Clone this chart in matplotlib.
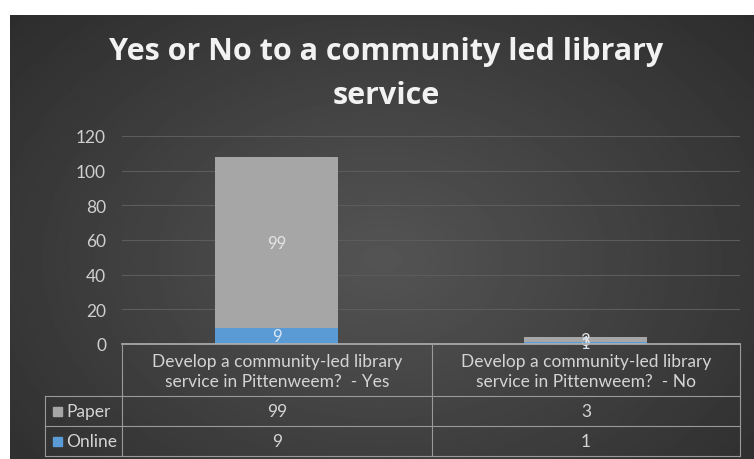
import numpy as np
import matplotlib.pyplot as plt

categories = ["Develop a community-led library\nservice in Pittenweem?  - Yes",
              "Develop a community-led library\nservice in Pittenweem?  - No"]
online = [9, 1]
paper = [99, 3]
series_names = ["Paper", "Online"]
title = "Yes or No to a community led library\nservice"

W, H = 754, 460
fig = plt.figure(figsize=(W / 100, H / 100), dpi=100, facecolor="white")
plt.rcParams['font.family'] = ['Lato', 'DejaVu Sans']

# dark radial background
bg = fig.add_axes([10 / W, 0, (W - 10) / W, (H - 16) / H])
yy, xx = np.mgrid[0:1:300j, 0:1:500j]
r = np.sqrt(((xx - 0.5) / 0.75) ** 2 + ((yy - 0.55) / 0.9) ** 2)
bg.imshow(0.33 - 0.17 * np.clip(r, 0, 1), cmap="gray", vmin=0, vmax=1,
          aspect="auto", extent=[0, 1, 0, 1])
bg.axis("off")

# main plot
ax = fig.add_axes([122 / W, (H - 345) / H, (740 - 122) / W, (345 - 137) / H])
ax.patch.set_alpha(0)
x = np.arange(len(categories))
bw = 0.4
ax.bar(x, online, bw, color="#5b9bd5", zorder=3)
ax.bar(x, paper, bw, bottom=online, color="#a6a6a6", zorder=3)
for i in range(len(categories)):
    ax.text(x[i], online[i] / 2, str(online[i]), ha="center", va="center",
            color="#d8e6f3", fontsize=12, zorder=4)
    ax.text(x[i], online[i] + paper[i] / 2, str(paper[i]), ha="center", va="center",
            color="#e4e4e4", fontsize=12, zorder=4)
ax.set_xlim(-0.5, len(categories) - 0.5)
ax.set_ylim(0, 120)
ax.set_yticks(range(0, 121, 20))
ax.tick_params(axis="y", length=0, labelsize=12.5, labelcolor="#cfcfcf", pad=11.5)
ax.set_xticks([])
ax.grid(axis="y", color="#5c5c5c", linewidth=0.8, zorder=0)
for s in ax.spines.values():
    s.set_visible(False)

fig.text(386.5 / W, 1 - 37 / H, title, ha="center", va="top", color="#f2f2f2",
         fontsize=22, fontweight="bold", family="Open Sans", linespacing=1.6)

# data table under the axis
tab = fig.add_axes([0, 0, 1, 1])
tab.set_xlim(0, W)
tab.set_ylim(H, 0)
tab.axis("off")
lc = "#9a9a9a"
col_x = [45, 122, 432, 740]
row_y = [345, 397, 427, 457]
tab.plot([122, 740], [345, 345], color="#b0b0b0", lw=1.2)
for yv in row_y[1:]:
    tab.plot([45, 740], [yv, yv], color=lc, lw=0.8)
for xv in col_x[1:]:
    tab.plot([xv, xv], [345, 457], color=lc, lw=0.8)
tab.plot([45, 45], [397, 457], color=lc, lw=0.8)

for j, cat in enumerate(categories):
    cx = (col_x[j + 1] + col_x[j + 2]) / 2
    tab.text(cx, 372, cat, ha="center", va="center", color="#d4d4d4",
             fontsize=12.5, linespacing=1.3)
rows = [paper, online]
colors = ["#a6a6a6", "#5b9bd5"]
for k, name in enumerate(series_names):
    cy = (row_y[k + 1] + row_y[k + 2]) / 2
    tab.add_patch(plt.Rectangle((53, cy - 4.5), 9, 9, color=colors[k]))
    tab.text(66, cy, name, ha="left", va="center", color="#d4d4d4", fontsize=12.5)
    for j in range(len(categories)):
        cx = (col_x[j + 1] + col_x[j + 2]) / 2
        tab.text(cx, cy, str(rows[k][j]), ha="center", va="center",
                 color="#d4d4d4", fontsize=12.5)

fig.savefig("out.png", dpi=100, facecolor="white")
